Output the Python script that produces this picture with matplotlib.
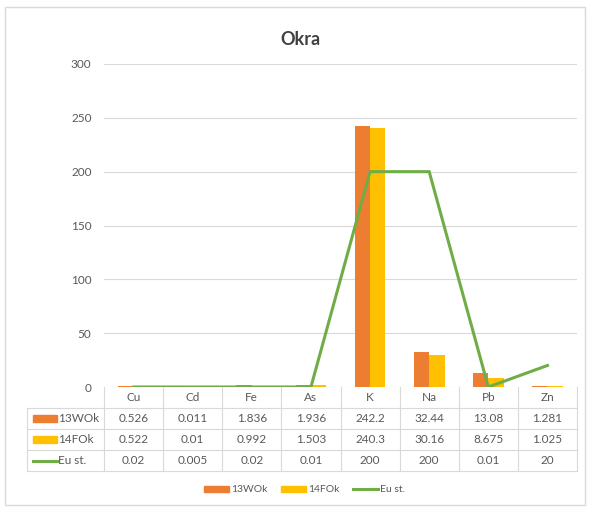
import matplotlib
matplotlib.use("Agg")
import matplotlib.pyplot as plt
from matplotlib.patches import Rectangle
from matplotlib.lines import Line2D
import numpy as np

categories = ["Cu", "Cd", "Fe", "As", "K", "Na", "Pb", "Zn"]
s13 = [0.526, 0.011, 1.836, 1.936, 242.2, 32.44, 13.08, 1.281]
s14 = [0.522, 0.01, 0.992, 1.503, 240.3, 30.16, 8.675, 1.025]
eu = [0.02, 0.005, 0.02, 0.01, 200, 200, 0.01, 20]
s13_lbl = ["0.526", "0.011", "1.836", "1.936", "242.2", "32.44", "13.08", "1.281"]
s14_lbl = ["0.522", "0.01", "0.992", "1.503", "240.3", "30.16", "8.675", "1.025"]
eu_lbl = ["0.02", "0.005", "0.02", "0.01", "200", "200", "0.01", "20"]
names = ["13WOk", "14FOk", "Eu st."]
yticks = [0, 50, 100, 150, 200, 250, 300]

C13 = "#ED7D31"
C14 = "#FFC000"
CEU = "#70AD47"
TXT = "#595959"
GRID = "#D9D9D9"
plt.rcParams['font.family'] = ['Lato', 'DejaVu Sans']

W, H = 592, 513
fig = plt.figure(figsize=(W / 100, H / 100), dpi=100)

def fx(px):
    return px / W

def fy(py):
    return 1 - py / H

# outer border
fig.patches.append(Rectangle((fx(5), fy(505)), fx(585) - fx(5), fy(7) - fy(505),
                             transform=fig.transFigure, fill=False, edgecolor=GRID, lw=1))

L, R, T, B = 104, 577, 64, 387
ax = fig.add_axes([fx(L), fy(B), fx(R) - fx(L), fy(T) - fy(B)])
x = np.arange(len(categories))
bw = 0.26
ax.bar(x - bw / 2, s13, bw, color=C13, zorder=3)
ax.bar(x + bw / 2, s14, bw, color=C14, zorder=3)
ax.plot(x, eu, color=CEU, lw=2.2, zorder=4, solid_joinstyle='miter')
ax.set_xlim(-0.5, len(categories) - 0.5)
ax.set_ylim(0, 300)
ax.set_yticks(yticks)
ax.set_yticklabels([str(v) for v in yticks], color=TXT, fontsize=8.5)
ax.tick_params(axis='y', length=0, pad=9)
ax.set_xticks([])
ax.grid(axis='y', color=GRID, lw=0.8, zorder=0)
for s in ax.spines.values():
    s.set_visible(False)
ax.set_title("Okra", fontsize=13, fontweight='bold', color="#404040",
             x=(300 - L) / (R - L), y=1.0, pad=14)

# table axes
TL, TB = 27, 471
cw = (R - L) / len(categories)
left_units = (L - TL) / cw
tax = fig.add_axes([fx(TL), fy(TB), fx(R) - fx(TL), fy(B) - fy(TB)])
tax.set_xlim(-0.5 - left_units, len(categories) - 0.5)
tax.set_ylim(4, 0)
tax.axis('off')
xl = -0.5 - left_units
for r in [1, 2, 3, 4]:
    tax.plot([xl, len(categories) - 0.5], [r, r], color=GRID, lw=0.8, clip_on=False)
for i in range(len(categories) + 1):
    tax.plot([i - 0.5, i - 0.5], [0, 4], color=GRID, lw=0.8, clip_on=False)
tax.plot([xl, xl], [1, 4], color=GRID, lw=0.8, clip_on=False)

for i, c in enumerate(categories):
    tax.text(i, 0.5, c, ha='center', va='center', color=TXT, fontsize=8.5)
for r, row in enumerate([s13_lbl, s14_lbl, eu_lbl]):
    for i, v in enumerate(row):
        tax.text(i, r + 1.5, v, ha='center', va='center', color=TXT, fontsize=8.5)

# row labels with keys
kx0 = xl + 0.10
kx1 = kx0 + 0.40
tax.add_patch(Rectangle((kx0, 1.5 - 0.15), kx1 - kx0, 0.30, color=C13, clip_on=False))
tax.add_patch(Rectangle((kx0, 2.5 - 0.15), kx1 - kx0, 0.30, color=C14, clip_on=False))
tax.plot([kx0, kx1], [3.5, 3.5], color=CEU, lw=2.2, clip_on=False)
for r, n in enumerate(names):
    tax.text(kx1 + 0.02, r + 1.5, n, ha='left', va='center', color=TXT, fontsize=8.5)

# legend
handles = [Rectangle((0, 0), 1, 1, color=C13), Rectangle((0, 0), 1, 1, color=C14),
           Line2D([0], [0], color=CEU, lw=2.2)]
fig.legend(handles, names, loc='center', bbox_to_anchor=(fx(305), fy(490)), ncol=3,
           frameon=False, fontsize=7.5, labelcolor=TXT, handlelength=2.4,
           handleheight=0.6, handletextpad=0.2, columnspacing=1.3)

fig.savefig("out.png", dpi=100)
